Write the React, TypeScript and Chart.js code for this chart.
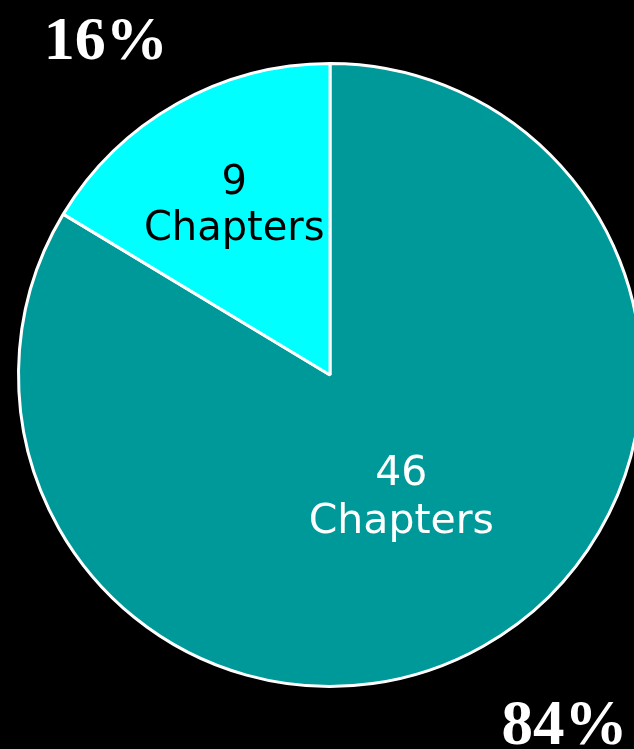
import React, { useEffect, useRef } from "react";
import { Chart, registerables } from "chart.js";

Chart.register(...registerables);

const categories = ["46 Chapters", "9 Chapters"];
const chapterCounts = [46, 9];
const percentLabels = ["84%", "16%"];
const sliceColors = ["#009999", "#00FFFF"];
const labelColors = ["#FFFFFF", "#000000"];

const serifFont = '"Times New Roman", "Liberation Serif", Tinos, serif';

const labelPlugin = {
  id: "sliceLabels",
  afterDatasetsDraw(chart: any) {
    const ctx = chart.ctx as CanvasRenderingContext2D;
    const meta = chart.getDatasetMeta(0);
    const radialFactor = [0.446, 0.625];
    const fontSizes = [41, 40];
    const lineGaps = [48, 46];
    ctx.save();
    meta.data.forEach((arc: any, i: number) => {
      const { x, y, startAngle, endAngle, outerRadius } = arc.getProps(
        ["x", "y", "startAngle", "endAngle", "outerRadius"],
        true
      );
      const mid = (startAngle + endAngle) / 2;
      const r = outerRadius * radialFactor[i];
      const lx = x + Math.cos(mid) * r;
      const ly = y + Math.sin(mid) * r;
      const parts = categories[i].split(" ");
      ctx.fillStyle = labelColors[i];
      ctx.font = `${fontSizes[i]}px "DejaVu Sans", Verdana, sans-serif`;
      ctx.textAlign = "center";
      ctx.textBaseline = "alphabetic";
      const dx = i === 0 ? 3 : 0;
      ctx.fillText(parts[0], lx + dx, ly - 11);
      ctx.fillText(parts[1], lx + dx, ly - 11 + lineGaps[i]);
    });
    const arc0 = meta.data[0];
    const cx = arc0.x;
    const cy = arc0.y;
    const R = arc0.outerRadius;
    ctx.fillStyle = "#FFFFFF";
    ctx.textAlign = "center";
    ctx.textBaseline = "alphabetic";
    ctx.font = `bold 62px ${serifFont}`;
    ctx.fillText(percentLabels[1], cx - R * 0.72, cy - R * 1.015);
    ctx.font = `bold 63px ${serifFont}`;
    ctx.fillText(percentLabels[0], cx + R * 0.753, cy + R * 1.186);
    ctx.restore();
  },
};

export default function App() {
  const canvasRef = useRef<HTMLCanvasElement | null>(null);

  useEffect(() => {
    if (!canvasRef.current) return;
    const chart = new Chart(canvasRef.current, {
      type: "pie",
      data: {
        labels: categories,
        datasets: [
          {
            data: chapterCounts,
            backgroundColor: sliceColors,
            borderColor: "#FFFFFF",
            borderWidth: 3,
          },
        ],
      },
      options: {
        responsive: false,
        animation: false,
        layout: { padding: { left: 17, right: 17, top: 62, bottom: 61 } },
        plugins: {
          legend: { display: false },
          tooltip: { enabled: false },
        },
      },
      plugins: [labelPlugin],
    });
    return () => chart.destroy();
  }, []);

  return (
    <div
      style={{
        position: "fixed",
        left: 0,
        top: 0,
        width: 634,
        height: 749,
        background: "#000000",
        overflow: "hidden",
      }}
    >
      <canvas
        ref={canvasRef}
        width={660}
        height={749}
        style={{ display: "block", width: 660, height: 749 }}
      />
    </div>
  );
}
